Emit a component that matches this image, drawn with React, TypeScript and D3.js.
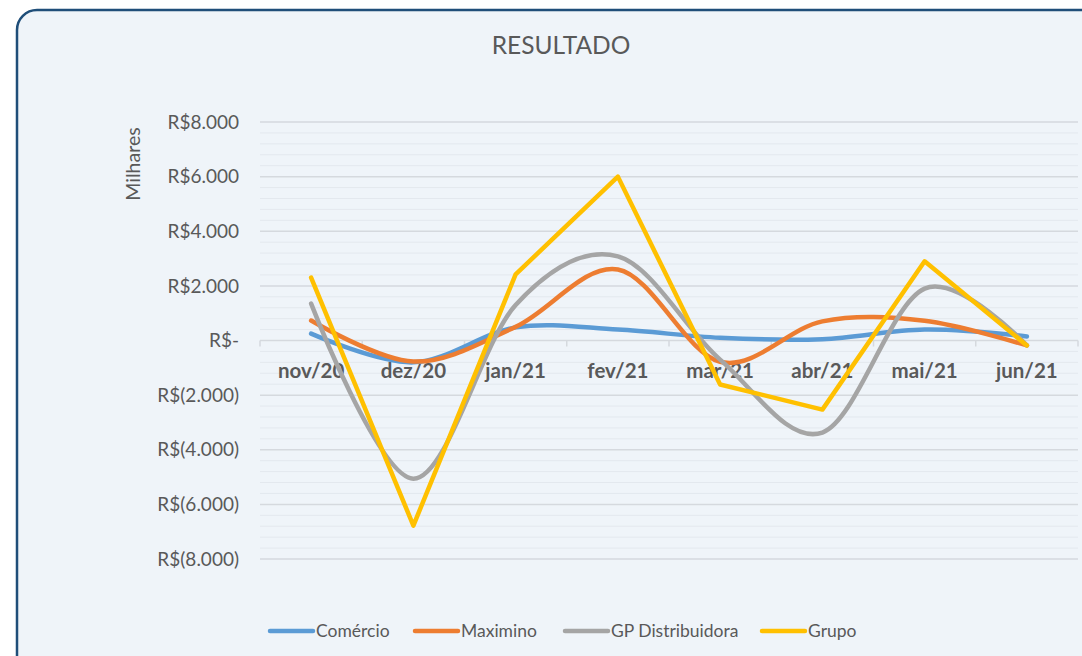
import React, { useEffect, useRef } from "react";
import * as d3 from "d3";

const months = ["nov/20", "dez/20", "jan/21", "fev/21", "mar/21", "abr/21", "mai/21", "jun/21"];
const comercio = [250, -800, 480, 400, 100, 50, 400, 150];
const maximino = [730, -770, 500, 2600, -780, 700, 720, -180];
const gpDistribuidora = [1350, -5060, 1300, 3080, -700, -3370, 1900, -180];
const grupo = [2300, -6780, 2420, 6000, -1610, -2530, 2900, -180];
const yTicks = [8000, 6000, 4000, 2000, 0, -2000, -4000, -6000, -8000];

const series = [
  { name: "Comércio", values: comercio, color: "#5B9BD5", smooth: true, lx: 270 },
  { name: "Maximino", values: maximino, color: "#ED7D31", smooth: true, lx: 415 },
  { name: "GP Distribuidora", values: gpDistribuidora, color: "#A5A5A5", smooth: true, lx: 565 },
  { name: "Grupo", values: grupo, color: "#FFC000", smooth: false, lx: 762 },
];

const FONT = "Lato, 'Liberation Sans', sans-serif";

function fmt(v: number) {
  if (v === 0) return "R$-";
  const s = d3.format(",")(Math.abs(v)).replace(/,/g, ".");
  return v < 0 ? `R$(${s})` : `R$${s}`;
}

export default function App() {
  const ref = useRef<SVGSVGElement | null>(null);

  useEffect(() => {
    if (!ref.current) return;
    const svg = d3.select(ref.current);
    svg.selectAll("*").remove();

    // panel
    svg
      .append("rect")
      .attr("x", 17)
      .attr("y", 10)
      .attr("width", 1100)
      .attr("height", 700)
      .attr("rx", 20)
      .attr("fill", "#EFF4F9")
      .attr("stroke", "#1F4E79")
      .attr("stroke-width", 2.5);

    const x = d3.scaleBand<string>().domain(months).range([260, 1078]);
    const y = d3.scaleLinear().domain([-8000, 8000]).range([559, 122]);
    const cx = (m: string) => (x(m) as number) + x.bandwidth() / 2;

    // minor gridlines
    const minor = d3.range(-8000, 8001, 400).filter((v) => v % 2000 !== 0);
    svg
      .append("g")
      .selectAll("line")
      .data(minor)
      .enter()
      .append("line")
      .attr("x1", 260)
      .attr("x2", 1078)
      .attr("y1", (d) => y(d))
      .attr("y2", (d) => y(d))
      .attr("stroke", "#E3E8EE")
      .attr("stroke-width", 1);

    // major gridlines
    svg
      .append("g")
      .selectAll("line")
      .data(yTicks)
      .enter()
      .append("line")
      .attr("x1", 260)
      .attr("x2", 1078)
      .attr("y1", (d) => y(d))
      .attr("y2", (d) => y(d))
      .attr("stroke", "#D5D9DE")
      .attr("stroke-width", 1.5);

    // category ticks on zero line
    const bounds = months.map((m) => x(m) as number).concat([1078]);
    svg
      .append("g")
      .selectAll("line")
      .data(bounds)
      .enter()
      .append("line")
      .attr("x1", (d) => d)
      .attr("x2", (d) => d)
      .attr("y1", y(0))
      .attr("y2", y(0) + 6)
      .attr("stroke", "#D5D9DE")
      .attr("stroke-width", 1.5);

    // y labels
    svg
      .append("g")
      .selectAll("text")
      .data(yTicks)
      .enter()
      .append("text")
      .attr("x", 239)
      .attr("y", (d) => y(d))
      .attr("dy", "0.35em")
      .attr("text-anchor", "end")
      .attr("font-family", FONT)
      .attr("font-size", 19)
      .attr("fill", "#595959")
      .text((d) => fmt(d));

    // x labels
    svg
      .append("g")
      .selectAll("text")
      .data(months)
      .enter()
      .append("text")
      .attr("x", (d) => cx(d))
      .attr("y", 378)
      .attr("text-anchor", "middle")
      .attr("font-family", FONT)
      .attr("font-weight", "bold")
      .attr("font-size", 20.5)
      .attr("fill", "#595959")
      .text((d) => d);

    // lines
    series.forEach((s) => {
      const line = d3
        .line<number>()
        .x((_, i) => cx(months[i]))
        .y((d) => y(d))
        .curve(s.smooth ? d3.curveCardinal.tension(0) : d3.curveLinear);
      svg
        .append("path")
        .attr("d", line(s.values))
        .attr("fill", "none")
        .attr("stroke", s.color)
        .attr("stroke-width", 4.5)
        .attr("stroke-linejoin", "round")
        .attr("stroke-linecap", "round");
    });

    // title
    svg
      .append("text")
      .attr("x", 561)
      .attr("y", 54)
      .attr("text-anchor", "middle")
      .attr("font-family", FONT)
      .attr("font-size", 24.5)
      .attr("fill", "#595959")
      .text("RESULTADO");

    // axis title
    svg
      .append("text")
      .attr("transform", "translate(140,164) rotate(-90)")
      .attr("text-anchor", "middle")
      .attr("font-family", FONT)
      .attr("font-size", 19.5)
      .attr("fill", "#595959")
      .text("Milhares");

    // legend
    const lg = svg
      .append("g")
      .selectAll("g")
      .data(series)
      .enter()
      .append("g")
      .attr("transform", (d) => `translate(${d.lx},631)`);
    lg.append("line")
      .attr("x1", 0)
      .attr("x2", 43)
      .attr("y1", 0)
      .attr("y2", 0)
      .attr("stroke", (d) => d.color)
      .attr("stroke-width", 4.5)
      .attr("stroke-linecap", "round");
    lg.append("text")
      .attr("x", 46)
      .attr("y", 0)
      .attr("dy", "0.35em")
      .attr("font-family", FONT)
      .attr("font-size", 17.5)
      .attr("fill", "#595959")
      .text((d) => d.name);
  }, []);

  return (
    <svg
      ref={ref}
      width={1082}
      height={656}
      style={{ position: "absolute", left: 0, top: 0, display: "block", background: "#fff" }}
    />
  );
}
